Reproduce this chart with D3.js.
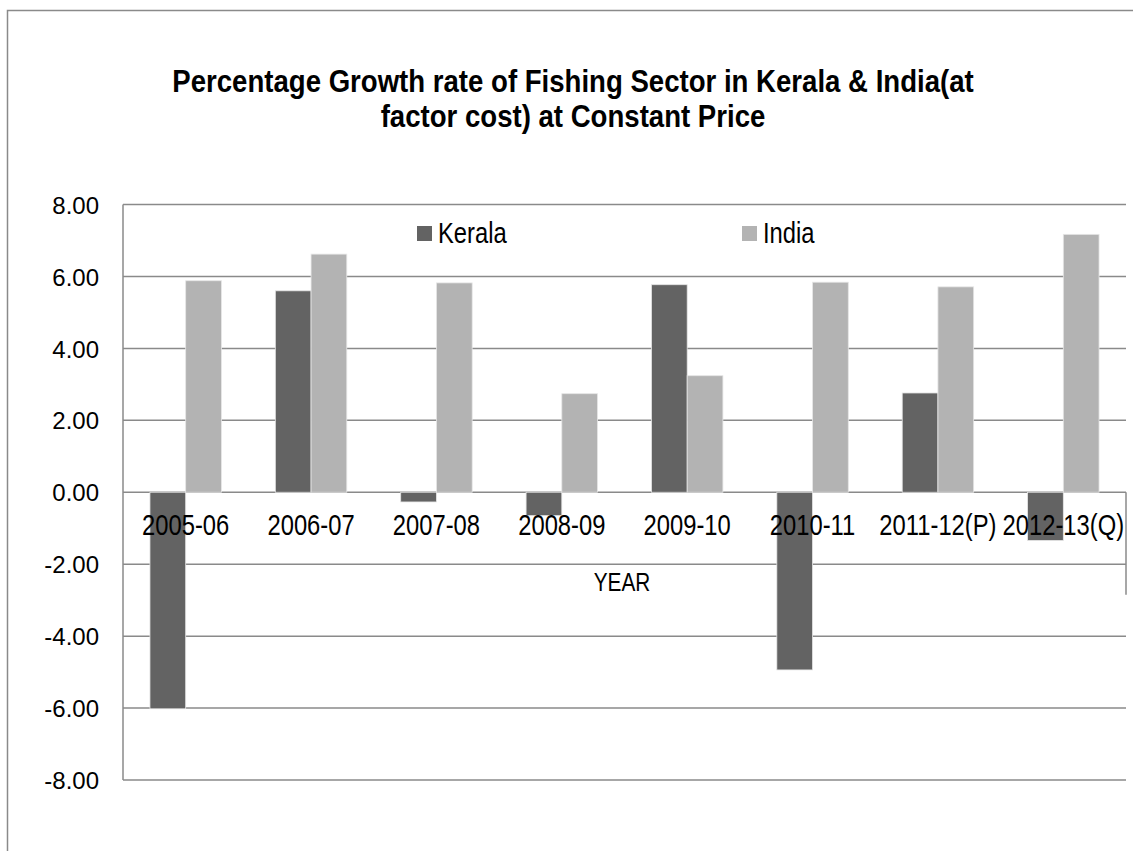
<!DOCTYPE html>
<html>
<head>
<meta charset="utf-8">
<script src="https://cdn.jsdelivr.net/npm/d3@7"></script>
<style>
  html, body { margin: 0; padding: 0; background: #fff; }
  svg { display: block; }
  text { font-family: 'Liberation Sans', Arial, sans-serif; fill: #000; }
</style>
</head>
<body>
<svg id="chart" width="1133" height="851"></svg>
<script>
// ---- data ----
const categories = ["2005-06", "2006-07", "2007-08", "2008-09", "2009-10", "2010-11", "2011-12(P)", "2012-13(Q)"];
const seriesNames = ["Kerala", "India"];
const keralaValues = [-6.02, 5.60, -0.27, -0.65, 5.77, -4.94, 2.76, -1.34];
const indiaValues = [5.88, 6.62, 5.82, 2.74, 3.24, 5.84, 5.71, 7.17];
const yTicks = [8, 6, 4, 2, 0, -2, -4, -6, -8];
const titleLines = ["Percentage Growth rate of Fishing Sector in Kerala & India(at", "factor cost) at Constant Price"];
const xAxisTitle = "YEAR";

const colors = { Kerala: "#636363", India: "#b3b3b3" };
const gridColor = "#8a8a8a";

const svg = d3.select("#chart");
const W = 1133, H = 851;
const plot = { left: 123, right: 1126, top: 204.5, bottom: 780 };

// outer chart border (left and top edges visible)
svg.append("path")
  .attr("d", `M7.5,${H} L7.5,10.5 L${W},10.5`)
  .attr("fill", "none").attr("stroke", gridColor).attr("stroke-width", 1.5);

// title
const title = svg.append("g");
const tLines = title.selectAll("text").data(titleLines).join("text")
  .attr("text-anchor", "middle")
  .attr("font-weight", "bold")
  .attr("font-size", 32)
  .text(d => d);
const l0 = tLines.nodes()[0].getComputedTextLength();
const tsx = 802 / l0;
tLines.attr("transform", (d, i) => `translate(573,${i === 0 ? 92 : 127}) scale(${tsx},1)`);

// scales
const x0 = d3.scaleBand().domain(categories).range([plot.left, plot.right])
  .paddingInner(0.43).paddingOuter(0.215);
const x1 = d3.scaleBand().domain(seriesNames).range([0, x0.bandwidth()]);
const y = d3.scaleLinear().domain([-8, 8]).range([plot.bottom, plot.top]);

// gridlines
svg.append("g").selectAll("line").data(yTicks).join("line")
  .attr("x1", plot.left).attr("x2", plot.right)
  .attr("y1", d => y(d)).attr("y2", d => y(d))
  .attr("stroke", gridColor).attr("stroke-width", 1.5);

// plot area left border
svg.append("line")
  .attr("x1", plot.left).attr("x2", plot.left)
  .attr("y1", plot.top).attr("y2", plot.bottom)
  .attr("stroke", gridColor).attr("stroke-width", 1.5);
// partial right border
svg.append("line")
  .attr("x1", plot.right).attr("x2", plot.right)
  .attr("y1", y(0)).attr("y2", y(-2.85))
  .attr("stroke", gridColor).attr("stroke-width", 1.5);

// y tick labels via d3 axis (hyphen-minus as in reference)
const yAxis = d3.axisLeft(y).tickValues(yTicks).tickFormat(d => d.toFixed(2)).tickSize(0).tickPadding(0);
const yg = svg.append("g").attr("transform", `translate(${plot.left - 24},0)`).call(yAxis);
yg.select(".domain").remove();
yg.selectAll("text").attr("font-size", 24).attr("font-family", "'Liberation Sans', Arial, sans-serif").attr("fill", "#000").attr("dy", "0.36em");

// bars
const rows = categories.map((c, i) => ({ cat: c, Kerala: keralaValues[i], India: indiaValues[i] }));
const groups = svg.append("g").selectAll("g").data(rows).join("g")
  .attr("transform", d => `translate(${x0(d.cat)},0)`);
groups.selectAll("rect").data(d => seriesNames.map(s => ({ s, v: d[s] }))).join("rect")
  .attr("x", d => x1(d.s))
  .attr("width", x1.bandwidth())
  .attr("y", d => y(Math.max(0, d.v)))
  .attr("height", d => Math.abs(y(d.v) - y(0)))
  .attr("fill", d => colors[d.s])
  .attr("stroke", "#e6e6e6").attr("stroke-width", 0.8);

// x category labels (drawn over bars, as in reference)
const xAxis = d3.axisBottom(x0).tickSize(0).tickPadding(0);
const xg = svg.append("g").call(xAxis);
xg.select(".domain").remove();
xg.selectAll(".tick").each(function(d) {
  const g = d3.select(this);
  const tx = x0(d) + x0.bandwidth() / 2;
  g.attr("transform", null);
  g.select("text")
    .attr("y", null).attr("dy", null)
    .attr("font-size", 29).attr("font-family", "'Liberation Sans', Arial, sans-serif").attr("fill", "#000")
    .attr("text-anchor", "middle")
    .attr("transform", `translate(${tx},535) scale(0.82,1)`);
});

// axis title
svg.append("text").text(xAxisTitle)
  .attr("text-anchor", "middle").attr("font-size", 26)
  .attr("transform", `translate(622,591) scale(0.8,1)`);

// legend
const legendPos = [{ s: "Kerala", x: 417 }, { s: "India", x: 742 }];
const lg = svg.append("g").selectAll("g").data(legendPos).join("g")
  .attr("transform", d => `translate(${d.x},226)`);
lg.append("rect").attr("width", 15).attr("height", 15).attr("fill", d => colors[d.s]);
lg.append("text").text(d => d.s).attr("font-size", 29)
  .attr("transform", "translate(21,17) scale(0.82,1)");
</script>
</body>
</html>
